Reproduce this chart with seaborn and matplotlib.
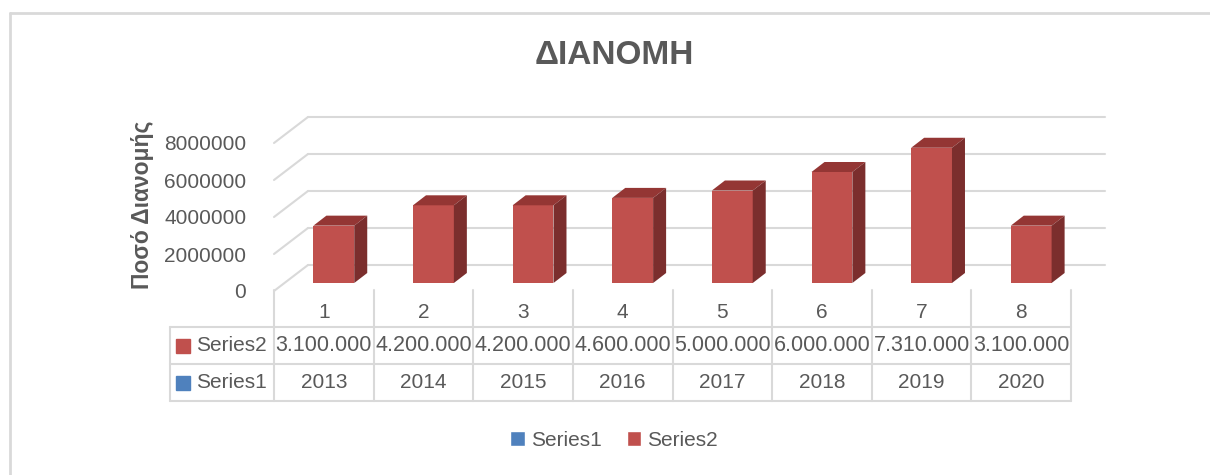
import numpy as np
import pandas as pd
import matplotlib
matplotlib.use("Agg")
import matplotlib.pyplot as plt
import seaborn as sns
from matplotlib.patches import Polygon, Patch
from matplotlib.transforms import ScaledTranslation

# data
categories = ["1", "2", "3", "4", "5", "6", "7", "8"]
series2 = [3100000, 4200000, 4200000, 4600000, 5000000, 6000000, 7310000, 3100000]
series2_labels = ["3.100.000", "4.200.000", "4.200.000", "4.600.000",
                  "5.000.000", "6.000.000", "7.310.000", "3.100.000"]
series1 = [2013, 2014, 2015, 2016, 2017, 2018, 2019, 2020]
yticks = [0, 2000000, 4000000, 6000000, 8000000]

sns.set_style("white")
plt.rcParams["font.family"] = ["Liberation Sans", "DejaVu Sans"]

TXT = "#595959"
GRID = "#d9d9d9"
RED = "#c0504d"
RED_TOP = "#943634"
RED_SIDE = "#7b2e2d"
BLUE = "#4f81bd"

W, H = 1210, 475
fig = plt.figure(figsize=(W / 100, H / 100), dpi=100)

# outer chart border (top + left)
fig.add_artist(plt.Line2D([10 / W, 10 / W], [0, 1 - 13 / H], color=GRID, lw=2))
fig.add_artist(plt.Line2D([10 / W, 1], [1 - 13 / H, 1 - 13 / H], color=GRID, lw=2))

# main plot area (front plane of the 3D box)
x0, x1, ytop, ybot = 274, 1071, 143, 291
ax = fig.add_axes([x0 / W, 1 - ybot / H, (x1 - x0) / W, (ybot - ytop) / H])
ax.set_xlim(-0.5, 7.5)
ax.set_ylim(0, 8000000)
ppx = (x1 - x0) / 8.0          # pixels per category
ppy = (ybot - ytop) / 8000000  # pixels per unit

# back wall + side wall gridlines
bdx, bdy = 34, 26
for t in yticks:
    ax.plot([-0.5 + bdx / ppx, 7.5 + bdx / ppx], [t + bdy / ppy] * 2,
            color=GRID, lw=1.5, clip_on=False, zorder=0)
    ax.plot([-0.5, -0.5 + bdx / ppx], [t, t + bdy / ppy],
            color=GRID, lw=1.5, clip_on=False, zorder=0)

df = pd.DataFrame({"cat": categories, "val": series2})
sns.barplot(data=df, x="cat", y="val", color=RED, width=0.41, ax=ax,
            saturation=1, errorbar=None, linewidth=0, zorder=2)

# shift bars to mid depth and add top / side faces
sx, sy = 10, 8
ddx, ddy = 13 / ppx, 10 / ppy
shift = ax.transData + ScaledTranslation(sx / 100, sy / 100, fig.dpi_scale_trans)
for p in list(ax.patches):
    p.set_transform(shift)
    p.set_clip_on(False)
    bx, bw, bh = p.get_x(), p.get_width(), p.get_height()
    top = Polygon([(bx, bh), (bx + bw, bh), (bx + bw + ddx, bh + ddy), (bx + ddx, bh + ddy)],
                  closed=True, facecolor=RED_TOP, edgecolor="none", transform=shift,
                  clip_on=False, zorder=2)
    side = Polygon([(bx + bw, 0), (bx + bw + ddx, ddy), (bx + bw + ddx, bh + ddy), (bx + bw, bh)],
                   closed=True, facecolor=RED_SIDE, edgecolor="none", transform=shift,
                   clip_on=False, zorder=2)
    ax.add_patch(top)
    ax.add_patch(side)

ax.set_yticks(yticks)
ax.set_yticklabels([str(t) for t in yticks])
ax.set_xticks([])
ax.tick_params(axis="y", length=0, pad=20, labelsize=15, labelcolor=TXT)
ax.set_xlabel("")
ax.set_ylabel("")
sns.despine(ax=ax, left=True, bottom=True)
ax.patch.set_alpha(0)

# title and y label
fig.text(614 / W, 1 - 56 / H, "ΔΙΑΝΟΜΗ", ha="center", va="center",
         fontsize=24, fontweight="bold", color=TXT)
fig.text(143 / W, 1 - 205 / H, "Ποσό Διανομής", ha="center", va="center",
         rotation=90, fontsize=16.5, fontweight="bold", color=TXT)

# data table
tl, tt, tb = 170, 290, 401
tab = fig.add_axes([tl / W, 1 - tb / H, (x1 - tl) / W, (tb - tt) / H])
left_x = -0.5 - (x0 - tl) / ppx
tab.set_xlim(left_x, 7.5)
tab.set_ylim(3, 0)
tab.axis("off")
for i in range(9):
    tab.plot([i - 0.5, i - 0.5], [0, 3], color=GRID, lw=1.5, clip_on=False)
tab.plot([left_x, left_x], [1, 3], color=GRID, lw=1.5, clip_on=False)
for r in [1, 2, 3]:
    tab.plot([left_x, 7.5], [r, r], color=GRID, lw=1.5, clip_on=False)
for i in range(8):
    tab.text(i, 0.6, categories[i], ha="center", va="center", fontsize=15, color=TXT)
    tab.text(i, 1.5, series2_labels[i], ha="center", va="center", fontsize=15.5, color=TXT)
    tab.text(i, 2.5, str(series1[i]), ha="center", va="center", fontsize=15, color=TXT)
for r, name, col in [(1.5, "Series2", RED), (2.5, "Series1", BLUE)]:
    tab.plot([left_x + 0.13], [r], marker="s", ms=10, color=col, clip_on=False)
    tab.text(left_x + 0.26, r, name, ha="left", va="center", fontsize=15, color=TXT)

# legend
handles = [Patch(facecolor=BLUE, label="Series1"), Patch(facecolor=RED, label="Series2")]
fig.legend(handles=handles, loc="center", bbox_to_anchor=(614 / W, 1 - 440 / H), ncol=2,
           frameon=False, fontsize=15, handlelength=0.7, handleheight=0.7,
           handletextpad=0.3, columnspacing=1.2, labelcolor=TXT)

fig.savefig("out.png", dpi=100)
